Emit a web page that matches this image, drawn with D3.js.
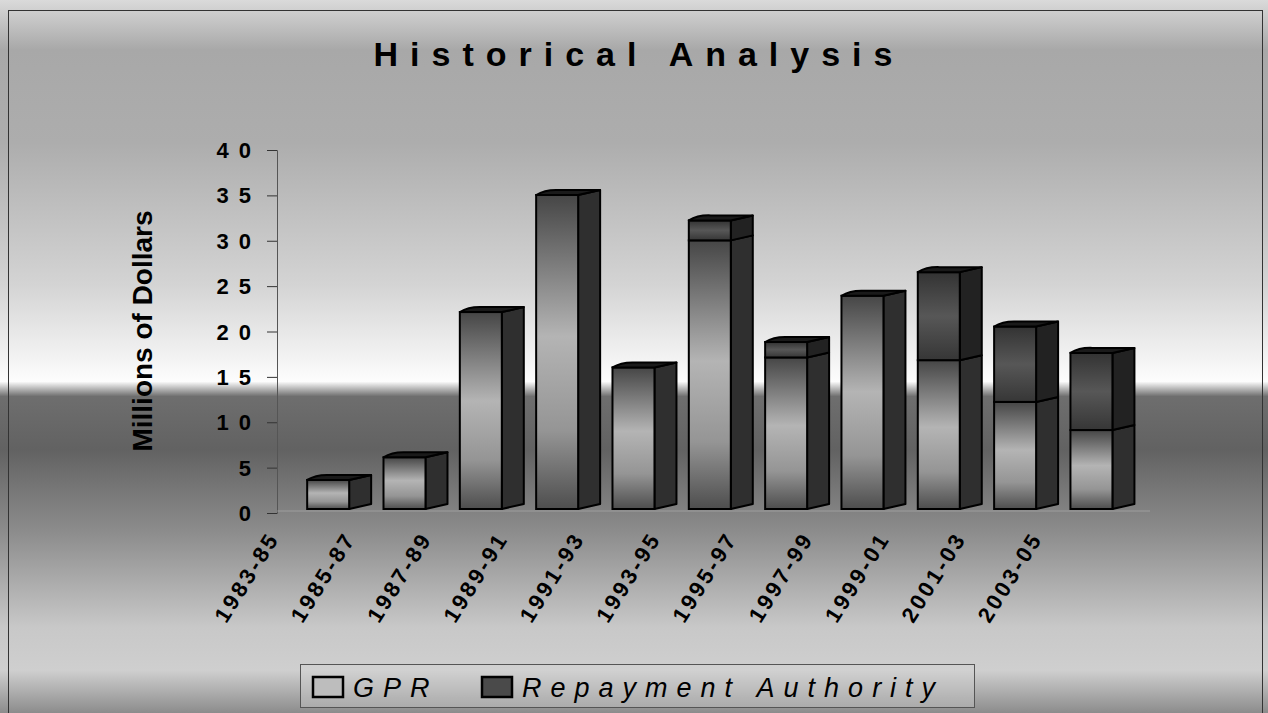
<!DOCTYPE html>
<html>
<head>
<meta charset="utf-8">
<script src="https://cdn.jsdelivr.net/npm/d3@7"></script>
<style>
  body { margin: 0; background: #fff; }
  text { font-family: Arial, "Liberation Sans", sans-serif; }
</style>
</head>
<body>
<div id="chart"></div>
<script>
var svgWidth = 1268;
var svgHeight = 713;

// data (millions of dollars)
var periods = ["1983-85", "1985-87", "1987-89", "1989-91", "1991-93", "1993-95",
               "1995-97", "1997-99", "1999-01", "2001-03", "2003-05"];
var gprValues = [3.2, 5.7, 21.7, 34.6, 15.6, 29.6, 16.7, 23.5, 16.4, 11.8, 8.7];
var repaymentValues = [0, 0, 0, 0, 0, 2.2, 1.7, 0, 9.7, 8.3, 8.5];
var yTicks = [0, 5, 10, 15, 20, 25, 30, 35, 40];
var seriesNames = ["GPR", "Repayment Authority"];

var depthX = 22, depthY = 5;

var svg = d3.select("#chart")
            .append("svg")
            .attr("width", svgWidth)
            .attr("height", svgHeight);

var defs = svg.append("defs");

// background: grey sky, white horizon, dark floor
var bg = defs.append("linearGradient").attr("id", "bg")
             .attr("x1", 0).attr("y1", 0).attr("x2", 0).attr("y2", 1);
[[0, "#dadada"], [0.07, "#a8a8a8"], [0.2, "#adadad"], [0.4, "#d4d4d4"],
 [0.5, "#f2f2f2"], [0.535, "#fdfdfd"], [0.556, "#6e6e6e"], [0.63, "#626262"],
 [0.75, "#8e8e8e"], [0.88, "#c8c8c8"], [0.94, "#cfcfcf"], [1, "#8c8c8c"]]
  .forEach(function(s){ bg.append("stop").attr("offset", s[0]).attr("stop-color", s[1]); });

function faceGrad(id, stops) {
  var g = defs.append("linearGradient").attr("id", id)
              .attr("x1", 0).attr("y1", 0).attr("x2", 0).attr("y2", 1);
  stops.forEach(function(s){ g.append("stop").attr("offset", s[0]).attr("stop-color", s[1]); });
}
faceGrad("gprFront", [[0, "#464646"], [0.45, "#b4b4b4"], [0.75, "#959595"], [1, "#4e4e4e"]]);
faceGrad("raFront", [[0, "#333333"], [0.5, "#575757"], [1, "#363636"]]);

svg.append("rect").attr("width", svgWidth).attr("height", svgHeight).attr("fill", "url(#bg)");
svg.append("rect").attr("x", 8.5).attr("y", 10.5).attr("width", 1254).attr("height", 710)
   .attr("fill", "none").attr("stroke", "#333").attr("stroke-width", 1);

// title
svg.append("text")
   .attr("x", 639).attr("y", 66)
   .attr("text-anchor", "middle")
   .style("font-size", "34px").style("font-weight", "bold").style("letter-spacing", "12px")
   .text("Historical Analysis");

// scales
var xScale = d3.scaleBand()
               .domain(periods)
               .range([290, 1129.6])
               .paddingInner(0.45)
               .paddingOuter(0.225);

var yScale = d3.scaleLinear().domain([0, 40]).range([513, 150]);
var yFront = d3.scaleLinear().domain([0, 40]).range([509, 146]);

// y axis
var yAxis = d3.axisLeft(yScale).tickValues(yTicks).tickSize(10).tickFormat("");
var axisG = svg.append("g").attr("transform", "translate(277,0)").call(yAxis);
axisG.select(".domain").attr("stroke", "#555");
axisG.selectAll(".tick line").attr("stroke", "#333");

svg.append("g").selectAll("text")
   .data(yTicks).join("text")
   .attr("x", 261)
   .attr("y", d => yScale(d) + 8)
   .attr("text-anchor", "end")
   .style("font-size", "22px").style("font-weight", "bold").style("letter-spacing", "10px")
   .text(d => d);

svg.append("text")
   .attr("transform", "translate(152,331) rotate(-90)")
   .attr("text-anchor", "middle")
   .style("font-size", "28px").style("font-weight", "bold")
   .text("Millions of Dollars");

// floor edge
svg.append("line").attr("x1", 277).attr("x2", 1150).attr("y1", 511).attr("y2", 511)
   .attr("stroke", "#bbb").attr("stroke-width", 1).attr("opacity", 0.5);

// bars
var rows = periods.map(function(p, i){ return {period: p, gpr: gprValues[i], ra: repaymentValues[i]}; });
var bars = svg.append("g").selectAll("g").data(rows).join("g");

function drawSegment(g, d, v0, v1, front, side) {
  if (v1 <= v0) return;
  var x = xScale(d.period), w = xScale.bandwidth();
  var yt = yFront(v1), yb = yFront(v0);
  g.append("path")
   .attr("d", "M" + (x + w) + "," + yt + "L" + (x + w + depthX) + "," + (yt - depthY) +
              "L" + (x + w + depthX) + "," + (yb - depthY) + "L" + (x + w) + "," + yb + "Z")
   .attr("fill", side).attr("stroke", "#000").attr("stroke-width", 2).attr("stroke-linejoin", "round");
  g.append("rect")
   .attr("x", x).attr("y", yt).attr("width", w).attr("height", yb - yt)
   .attr("fill", front).attr("stroke", "#000").attr("stroke-width", 2);
}

bars.each(function(d){
  var g = d3.select(this);
  drawSegment(g, d, 0, d.gpr, "url(#gprFront)", "#2f2f2f");
  drawSegment(g, d, d.gpr, d.gpr + d.ra, "url(#raFront)", "#222222");
  var x = xScale(d.period), w = xScale.bandwidth(), yt = yFront(d.gpr + d.ra);
  g.append("path")
   .attr("d", "M" + x + "," + yt + "Q" + (x + depthX * 0.4) + "," + (yt - depthY * 1.1) + " " + (x + depthX) + "," + (yt - depthY) +
              "L" + (x + w + depthX) + "," + (yt - depthY) + "L" + (x + w) + "," + yt + "Z")
   .attr("fill", "#1a1a1a").attr("stroke", "#000").attr("stroke-width", 2).attr("stroke-linejoin", "round");
});

// category labels
svg.append("g").selectAll("text")
   .data(periods).join("text")
   .attr("transform", d => "translate(" + (xScale(d) + xScale.bandwidth() / 2 - 48) + ",538) rotate(-58)")
   .attr("text-anchor", "end")
   .style("font-size", "22px").style("font-weight", "bold").style("letter-spacing", "3px")
   .text(d => d);

// legend
var legend = svg.append("g");
legend.append("rect").attr("x", 300.5).attr("y", 664.5).attr("width", 674).attr("height", 43)
      .attr("fill", "#d4d4d4").attr("fill-opacity", 0.35).attr("stroke", "#555").attr("stroke-width", 1);
var legendX = [313, 482];
var legendFill = ["#bdbdbd", "#4a4a4a"];
seriesNames.forEach(function(name, i){
  legend.append("rect").attr("x", legendX[i]).attr("y", 677).attr("width", 30).attr("height", 20)
        .attr("fill", legendFill[i]).attr("stroke", "#000").attr("stroke-width", 2.5);
  legend.append("text").attr("x", legendX[i] + 40).attr("y", 697)
        .style("font-size", "27px").style("font-style", "italic").style("letter-spacing", "9px")
        .text(name);
});
</script>
</body>
</html>
